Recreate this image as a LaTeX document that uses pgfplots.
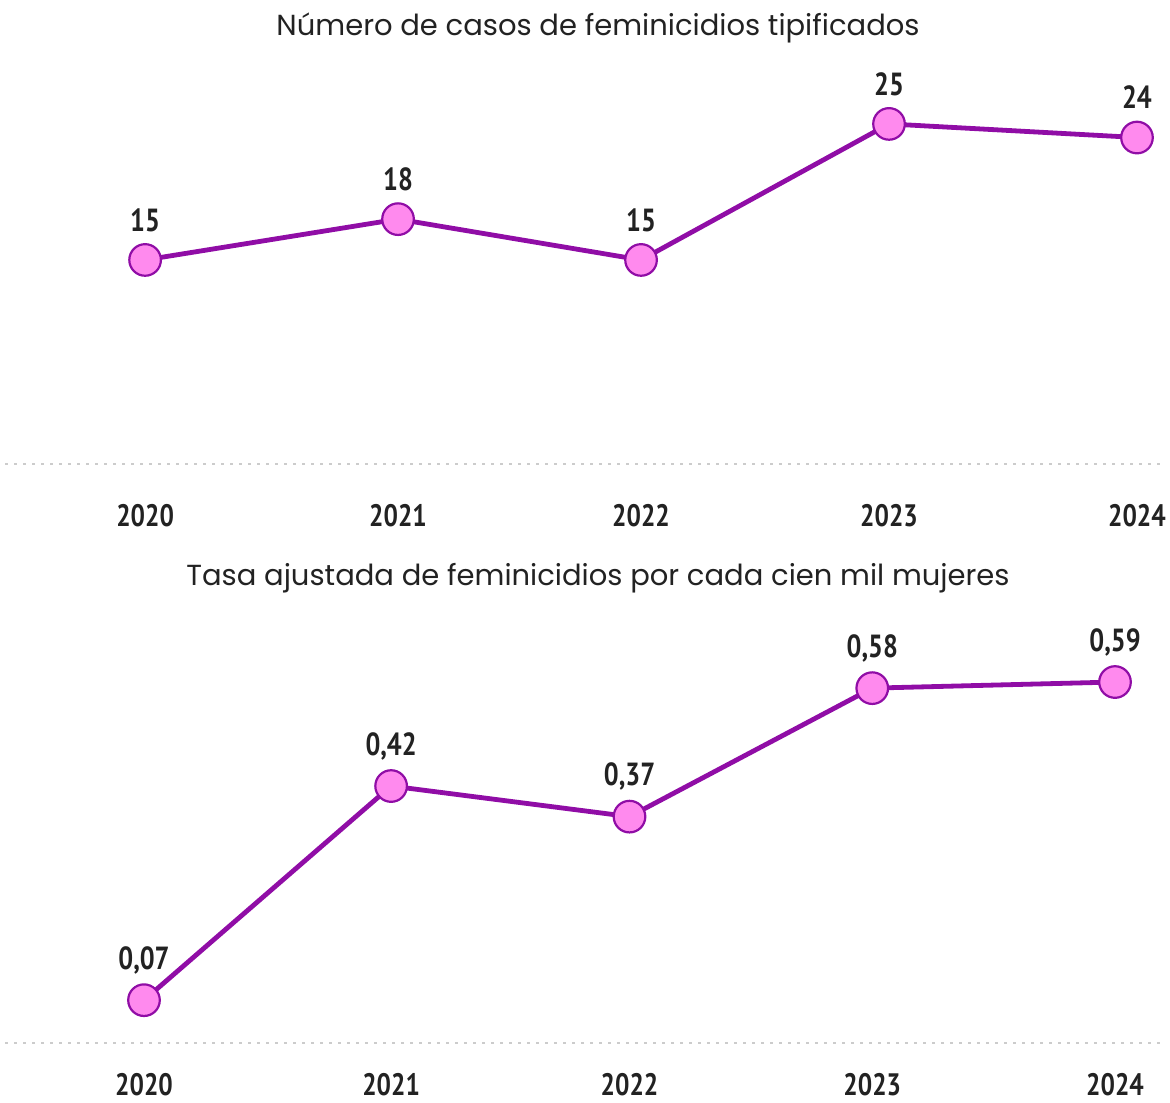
\documentclass[border=0pt]{standalone}
\usepackage{pgfplots}
\pgfplotsset{compat=1.18}
\usepackage{pgfplotstable}
\usepackage{fontspec}
\setmainfont{Poppins}
\newfontfamily\lab[FakeStretch=0.82]{PT Sans}
\definecolor{lineC}{HTML}{900DA6}
\definecolor{fillC}{HTML}{FF8AEE}
\definecolor{txt}{HTML}{222222}

\pgfplotstableread{
x y lab
0 15 15
1.02 18 18
2 15 15
3 25 25
4 24 24
}\tablecasos

\pgfplotstableread{
x y lab
0 0.07 0,07
1.018 0.42 0,42
2 0.37 0,37
3 0.58 0,58
4 0.59 0,59
}\tablatasa

\pgfplotsset{mystyle/.style={
  scale only axis, width=580pt,
  axis x line*=bottom, axis y line=none,
  axis line style={draw=black!20, line width=0.7pt, dash pattern=on 1.5pt off 3pt, -},
  xticklabels={2020,2021,2022,2023,2024},
  major tick length=0pt, ytick=\empty,
  clip=false,
},
myplot/.style={
  color=lineC, line width=2.4pt, mark=*, mark size=7.9pt,
  mark options={fill=fillC, draw=lineC, line width=1.1pt},
  nodes near coords, point meta=explicit symbolic,
  nodes near coords style={font=\lab\bfseries\fontsize{16}{18}\selectfont, text=txt, anchor=center, yshift=20pt},
}}

\begin{document}
\begin{tikzpicture}
\path[use as bounding box] (0,0) rectangle (585pt,551pt);
\begin{axis}[mystyle,
  at={(2.5pt,319pt)}, anchor=south west, height=182pt,
  xtick={0,1.02,2,3,4},
  xmin=-0.565, xmax=4.113, ymin=0, ymax=26.76,
  xticklabel style={font=\lab\bfseries\fontsize{15.5}{18}\selectfont, text=txt, anchor=center, yshift=-26pt}]
\addplot[myplot] table[x=x,y=y,meta=lab]{\tablecasos};
\end{axis}
\begin{axis}[mystyle,
  at={(2.5pt,29.5pt)}, anchor=south west, height=191.5pt,
  xtick={0,1.018,2,3,4},
  xmin=-0.5726, xmax=4.206, ymin=0, ymax=0.626,
  xticklabel style={font=\lab\bfseries\fontsize{15.5}{18}\selectfont, text=txt, anchor=center, yshift=-21pt}]
\addplot[myplot] table[x=x,y=y,meta=lab]{\tablatasa};
\end{axis}
\node[font=\fontsize{14.5}{17}\selectfont, text=txt] at (299pt,537pt) {Número de casos de feminicidios tipificados};
\node[font=\fontsize{14.5}{17}\selectfont, text=txt] at (299pt,262pt) {Tasa ajustada de feminicidios por cada cien mil mujeres};
\end{tikzpicture}
\end{document}
